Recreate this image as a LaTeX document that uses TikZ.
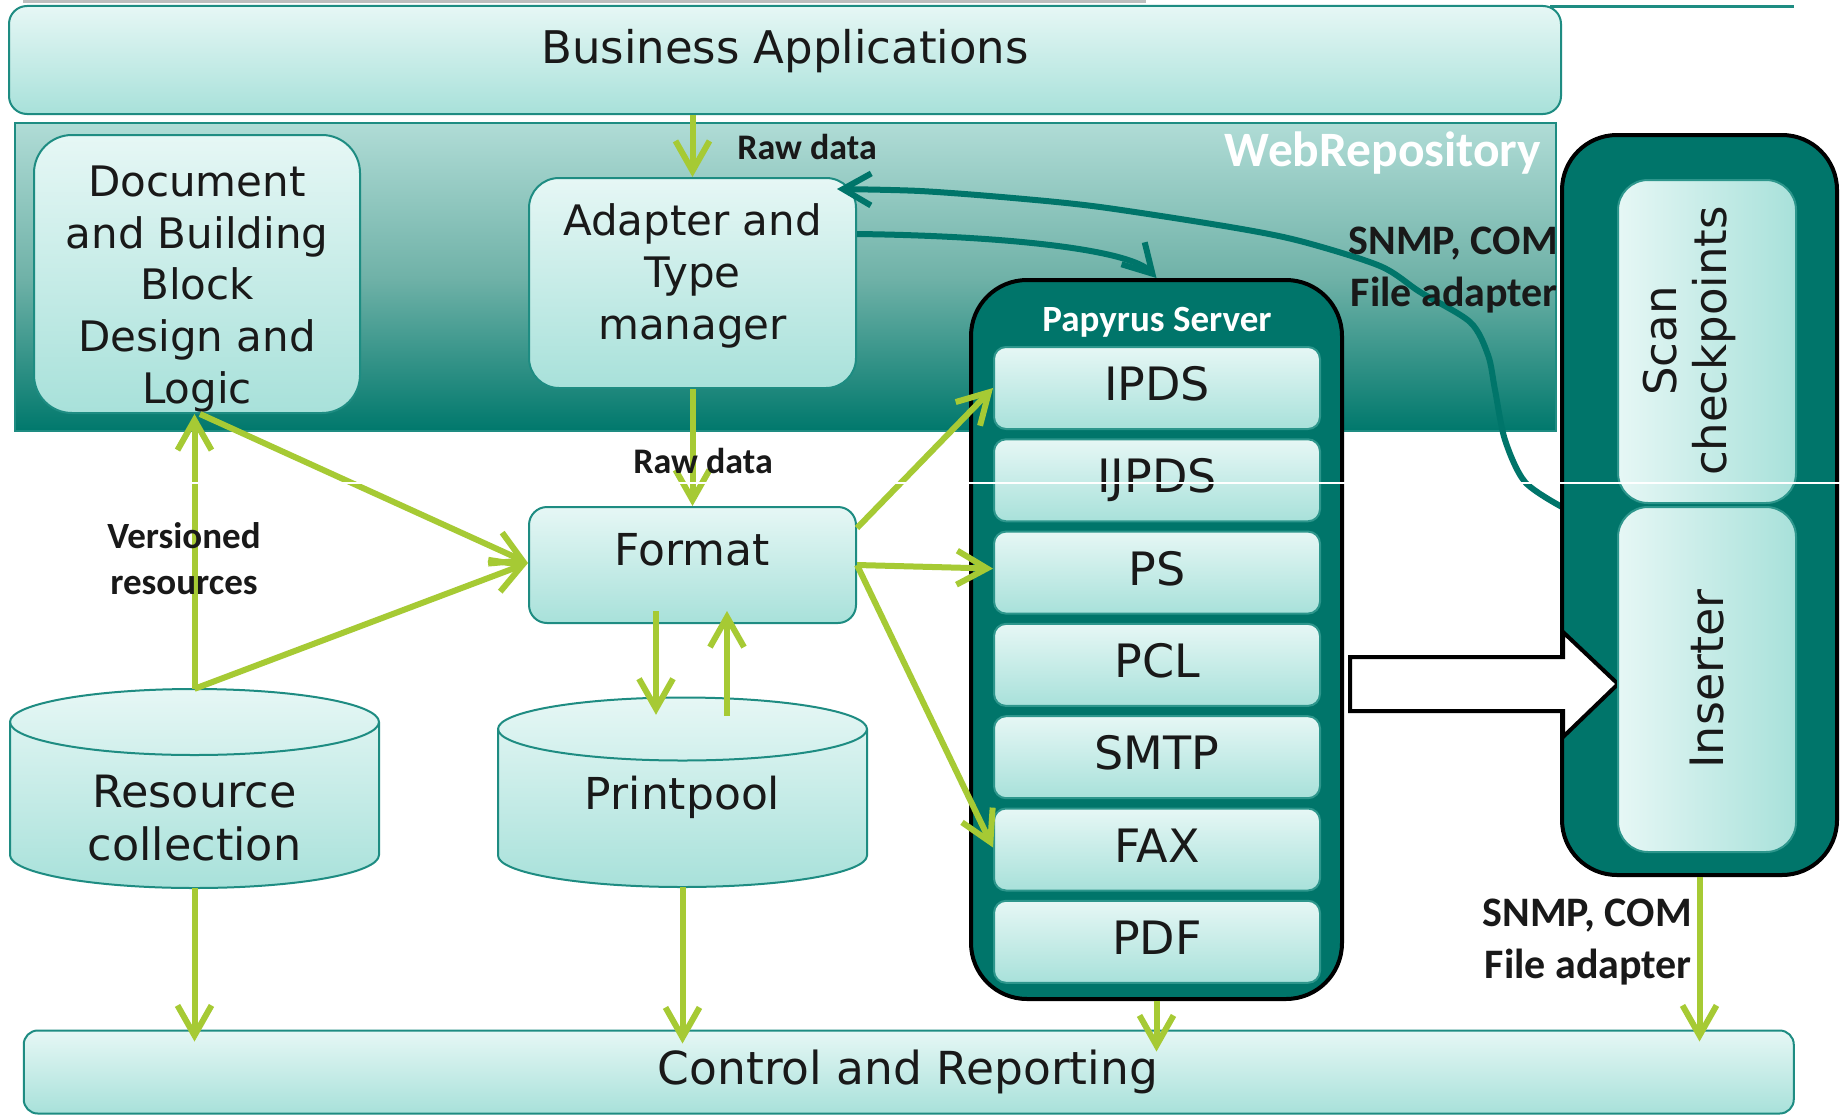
\documentclass[tikz,border=0pt]{standalone}
\usepackage{fontspec}
\setmainfont{DejaVu Sans}
\newfontfamily\lblfont{Carlito}
\usetikzlibrary{arrows.meta}
\definecolor{boxtop}{RGB}{230,247,245}
\definecolor{boxbot}{RGB}{168,225,218}
\definecolor{boxline}{RGB}{30,140,130}
\definecolor{itemline}{RGB}{45,150,140}
\definecolor{darkteal}{RGB}{0,117,106}
\definecolor{arrowgreen}{RGB}{166,202,52}
\definecolor{webtop}{RGB}{176,220,214}
\definecolor{webmid}{RGB}{112,178,168}
\definecolor{webbot}{RGB}{0,120,108}
\definecolor{topgray}{RGB}{190,190,190}
\definecolor{ink}{RGB}{25,25,25}
\begin{document}
\begin{tikzpicture}[x=1pt,y=-1pt,
  lightbox/.style={draw=boxline, line width=2pt, top color=boxtop, bottom color=boxbot, inner sep=0pt},
  itembox/.style={draw=itemline, line width=2pt, top color=boxtop, bottom color=boxbot, inner sep=0pt, rounded corners=12pt, minimum width=326pt, minimum height=82pt},
  vbox/.style={draw=itemline, line width=2pt, left color=boxtop, right color=boxbot, inner sep=0pt, rounded corners=30pt, minimum width=178pt},
  darkbox/.style={draw=black, line width=4pt, fill=darkteal, inner sep=0pt},
  cyl/.style={draw=boxline, line width=2pt, top color=boxtop, bottom color=boxbot},
  txt/.style={inner sep=0pt, align=center, text=ink, font=\fontsize{44}{52}\selectfont},
  itxt/.style={inner sep=0pt, anchor=base, text=ink, font=\fontsize{46}{52}\selectfont},
  lbl/.style={inner sep=0pt, text=ink, font=\lblfont\bfseries\fontsize{36}{46}\selectfont},
  garrow/.style={draw=arrowgreen, line width=6pt, -{Straight Barb[length=30pt,width=34pt]}},
  tarrow/.style={draw=darkteal, line width=6pt, -{Straight Barb[length=28pt,width=32pt]}}
]
\useasboundingbox (0,0) rectangle (1843,1116);
\fill[white] (0,0) rectangle (1843,1116);

% decorative top lines
\draw[line width=3pt, topgray] (23,1.5) -- (1146,1.5);
\draw[line width=3pt, boxline] (1550,7) -- (1794,7);

% Business applications
\node[lightbox, rounded corners=18pt, minimum width=1552pt, minimum height=108pt] (business) at (785,60) {};
\node[txt, font=\fontsize{45}{52}\selectfont] (t-business) at (785,51) {Business Applications};

% WebRepository band
\node[draw=boxline, line width=2pt, top color=webtop, bottom color=webbot, middle color=webmid, minimum width=1541pt, minimum height=308pt, inner sep=0pt] (web) at (785.5,277) {};
\node[lbl, text=white, font=\lblfont\bfseries\fontsize{49.5}{56}\selectfont] (t-web) at (1383,153) {WebRepository};

% Document box
\node[lightbox, rounded corners=38pt, minimum width=326pt, minimum height=278pt] (doc) at (197,274) {};
\node[txt, font=\fontsize{42}{51.7}\selectfont] (t-doc) at (197,289) {Document\\and Building\\Block\\Design and\\Logic};

% Adapter box
\node[lightbox, rounded corners=30pt, minimum width=327pt, minimum height=210pt] (adapter) at (692.5,283) {};
\node[txt, font=\fontsize{42}{52}\selectfont] (t-adapter) at (692.5,276) {Adapter and\\Type\\manager};

% teal curved connectors
\coordinate (c1s) at (1562,507);
\coordinate (c1e) at (837,189);
\draw[tarrow] plot[smooth, tension=0.5] coordinates {(c1s) (1525,482) (1505,440) (1495,390) (1488,355) (1470,322) (1420,292) (1380,266) (1300,241) (1230,227) (1100,207) (1013,198) (920,191) (c1e)};

% Papyrus server
\node[darkbox, rounded corners=56pt, minimum width=371pt, minimum height=719pt] (papyrus) at (1156.5,639.5) {};
\node[lbl, text=white, font=\lblfont\bfseries\fontsize{37}{44}\selectfont] (t-papyrus) at (1157,322) {Papyrus Server};
\node[itembox] (ipds) at (1157,388) {};
\node[itembox] (ijpds) at (1157,480.3) {};
\node[itembox] (ps) at (1157,572.6) {};
\node[itembox] (pcl) at (1157,664.9) {};
\node[itembox] (smtp) at (1157,757.2) {};
\node[itembox] (fax) at (1157,849.5) {};
\node[itembox] (pdf) at (1157,941.8) {};
\node[itxt] (t-ipds) at (1157,400.5) {IPDS};
\node[itxt] (t-ijpds) at (1157,492.8) {IJPDS};
\node[itxt] (t-ps) at (1157,585.1) {PS};
\node[itxt] (t-pcl) at (1157,677.4) {PCL};
\node[itxt] (t-smtp) at (1157,769.7) {SMTP};
\node[itxt] (t-fax) at (1157,862) {FAX};
\node[itxt] (t-pdf) at (1157,954.3) {PDF};

\draw[tarrow] ([yshift=49pt]adapter.east) .. controls (1010,236) and (1130,250) .. (papyrus.north);

% right container
\node[darkbox, rounded corners=55pt, minimum width=275pt, minimum height=740pt] (rightc) at (1699.5,505) {};
% big white arrow
\draw[line width=4pt, fill=white, line join=miter] (1350,657) -- (1563,657) -- (1563,632) -- (1618,684) -- (1563,737) -- (1563,711) -- (1350,711) -- cycle;
\node[vbox, minimum height=323pt] (scan) at (1707,341.5) {};
\node[vbox, minimum height=345pt] (inserter) at (1707,679.5) {};
\node[txt, rotate=90, font=\fontsize{45}{50}\selectfont] (t-scan) at (1689,341) {Scan\\checkpoints};
\node[txt, rotate=90, font=\fontsize{46}{52}\selectfont] (t-inserter) at (1707,679) {Inserter};

% Format
\node[lightbox, rounded corners=18pt, minimum width=327pt, minimum height=116pt] (format) at (692.5,565) {};
\node[txt] (t-format) at (692.5,550) {Format};

% Resource collection cylinder
\path[cyl] (10,722) -- (10,855) arc (180:0:184.5 and 33) -- (379,722) arc (0:-180:184.5 and 33) -- cycle;
\draw[boxline, line width=2pt] (10,722) arc (180:0:184.5 and 33);
\node[inner sep=0pt, minimum width=369pt, minimum height=199pt] (resource) at (194.5,788.5) {};
\node[txt, font=\fontsize{44.5}{53}\selectfont] (t-resource) at (194.5,818) {Resource\\collection};

% Printpool cylinder
\path[cyl] (498,729) -- (498,855.5) arc (180:0:184.5 and 31.5) -- (867,729) arc (0:-180:184.5 and 31.5) -- cycle;
\draw[boxline, line width=2pt] (498,729) arc (180:0:184.5 and 31.5);
\node[inner sep=0pt, minimum width=369pt, minimum height=190pt] (printpool) at (682.5,792) {};
\node[txt] (t-printpool) at (682.5,797) {Printpool};

% Control and Reporting
\node[lightbox, rounded corners=14pt, minimum width=1770pt, minimum height=83pt] (control) at (908.75,1072) {};
\node[txt, font=\fontsize{45.5}{52}\selectfont] (t-control) at (908,1072) {Control and Reporting};

% green arrows
\draw[garrow] (adapter.north |- business.south) -- (adapter.north);
\draw[garrow] (adapter.south) -- (format.north);
\draw[garrow] (resource.north) -- (resource.north |- doc.south);
\draw[garrow] (resource.north) -- ([yshift=2pt]format.west);
\draw[garrow] ([xshift=3pt]doc.south) -- ([yshift=2pt]format.west);
\draw[garrow] ([xshift=-36.5pt,yshift=13pt]format.south) -- ([xshift=-26.5pt,yshift=-18pt]printpool.north);
\draw[garrow] ([xshift=44.5pt,yshift=-19pt]printpool.north) -- ([xshift=34.5pt,yshift=13pt]format.south);
\draw[garrow] ([yshift=37pt]format.east) -- (ipds.west);
\draw[garrow] (format.east) -- ([yshift=4pt]ps.west);
\draw[garrow] (format.east) -- ([yshift=2pt]fax.west);
\draw[garrow, shorten >=-12pt] (resource.south) -- (resource.south |- control.north);
\draw[garrow, shorten >=-14pt] (printpool.south) -- (printpool.south |- control.north);
\draw[garrow, shorten >=-22pt] (papyrus.south) -- (papyrus.south |- control.north);
\draw[garrow, shorten >=-12pt] (rightc.south) -- (rightc.south |- control.north);

% labels
\node[lbl] (l-raw1) at (807,147) {Raw data};
\node[lbl] (l-raw2) at (703,461) {Raw data};
\node[lbl, align=center, font=\lblfont\bfseries\fontsize{37}{46}\selectfont] (l-vers) at (184,559) {Versioned\\resources};
\node[lbl, align=right, anchor=east, font=\lblfont\bfseries\fontsize{42}{52}\selectfont] (l-snmp1) at (1558,270) {SNMP, COM\\File adapter};
\node[lbl, align=right, anchor=east, font=\lblfont\bfseries\fontsize{42}{52}\selectfont] (l-snmp2) at (1692,942) {SNMP, COM\\File adapter};

% thin white scan line
\draw[white, line width=1.5pt] (0,483) -- (1843,483);
\end{tikzpicture}
\end{document}
